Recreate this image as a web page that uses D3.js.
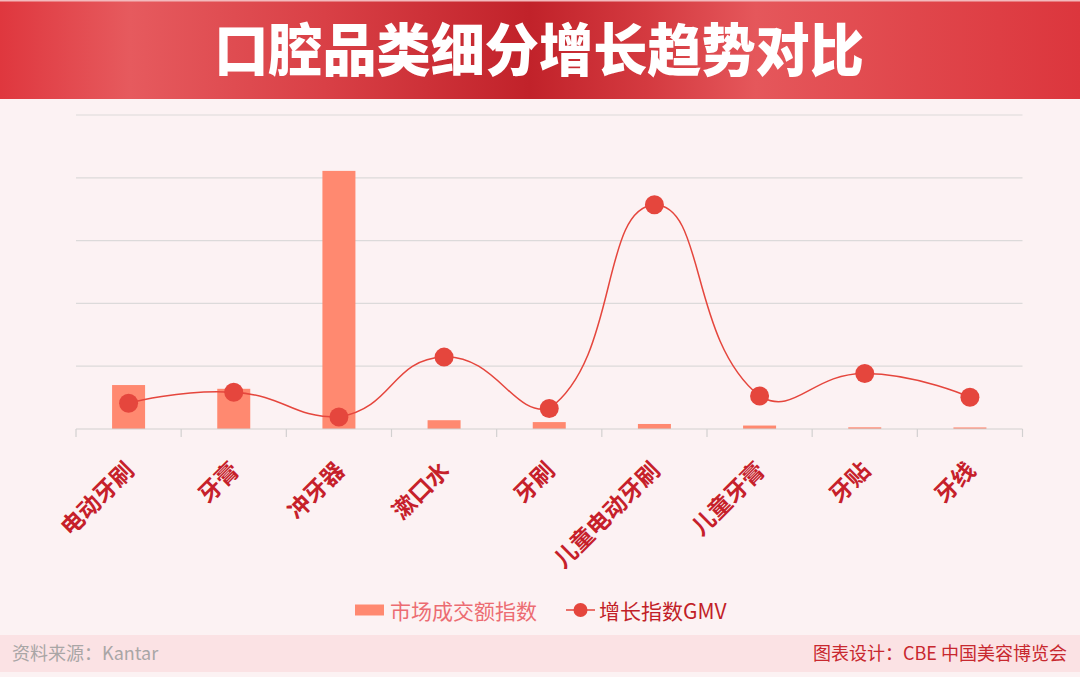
<!DOCTYPE html>
<html>
<head>
<meta charset="utf-8">
<script src="https://cdn.jsdelivr.net/npm/d3@7/dist/d3.min.js"></script>
<style>
  html, body { margin: 0; padding: 0; background: #fcf2f3; }
  svg { display: block; }
  text { font-family: "Noto Sans CJK SC", "Noto Sans", sans-serif; }
</style>
</head>
<body>
<svg id="chart" width="1080" height="677"></svg>
<script>
// ---- data ----
const title = "口腔品类细分增长趋势对比";
const categories = ["电动牙刷", "牙膏", "冲牙器", "漱口水", "牙刷", "儿童电动牙刷", "儿童牙膏", "牙贴", "牙线"];
const marketIndex = [7.0, 6.4, 41.1, 1.4, 1.1, 0.8, 0.55, 0.27, 0.25];   // 市场成交额指数 (bars)
const growthIndex = [4.1, 5.85, 1.9, 11.45, 3.25, 35.7, 5.25, 8.85, 5.05]; // 增长指数GMV (line)
const yTicks = [0, 10, 20, 30, 40, 50];
const legendLabels = ["市场成交额指数", "增长指数GMV"];
const sourceText = "资料来源：Kantar";
const creditText = "图表设计：CBE 中国美容博览会";

// ---- setup ----
const svg = d3.select("#chart");
const W = 1080, H = 677;

const defs = svg.append("defs");
const grad = defs.append("linearGradient").attr("id", "hdr").attr("x1", "0").attr("x2", "1").attr("y1", "0").attr("y2", "0");
[[0, "#df373e"], [0.12, "#e65a5e"], [0.3, "#d94046"], [0.49, "#c1222a"], [0.6, "#d43a40"], [0.7, "#e5575b"], [0.85, "#e0464b"], [1, "#dc363d"]]
  .forEach(([o, c]) => grad.append("stop").attr("offset", o).attr("stop-color", c));

svg.append("rect").attr("width", W).attr("height", H).attr("fill", "#fcf2f3");
svg.append("rect").attr("x", 0).attr("y", 0).attr("width", W).attr("height", 99).attr("fill", "url(#hdr)");
svg.append("rect").attr("x", 0).attr("y", 0).attr("width", W).attr("height", 1.5).attr("fill", "#f3b9bc");
svg.append("text")
  .attr("transform", "translate(539,71) scale(0.95,1)")
  .attr("text-anchor", "middle")
  .attr("fill", "#ffffff")
  .attr("font-size", 57)
  .attr("font-weight", 900)
  .text(title);

// footer band
svg.append("rect").attr("x", 0).attr("y", 635).attr("width", W).attr("height", 37).attr("fill", "#fbe2e4");
svg.append("text").attr("x", 12).attr("y", 660).attr("font-size", 18).attr("fill", "#a9a6a6").text(sourceText);
svg.append("text").attr("x", 1067).attr("y", 660).attr("text-anchor", "end").attr("font-size", 18).attr("fill", "#c8282f").text(creditText);

// ---- scales ----
const x = d3.scaleBand().domain(categories).range([76, 1022.5]).padding(0);
const y = d3.scaleLinear().domain([0, 50]).range([429, 115]);
const barW = 33;

// gridlines
svg.append("g").selectAll("line").data(yTicks.filter(d => d > 0)).join("line")
  .attr("x1", 76).attr("x2", 1022.5)
  .attr("y1", d => y(d)).attr("y2", d => y(d))
  .attr("stroke", "#dcdada").attr("stroke-width", 1.2);

// bars
svg.append("g").selectAll("rect").data(categories).join("rect")
  .attr("x", (d) => x(d) + x.bandwidth() / 2 - barW / 2)
  .attr("width", barW)
  .attr("y", (d, i) => y(marketIndex[i]))
  .attr("height", (d, i) => y(0) - y(marketIndex[i]))
  .attr("fill", "#ff8970");

// x axis
const axisG = svg.append("g");
axisG.append("line").attr("x1", 76).attr("x2", 1022.5).attr("y1", y(0)).attr("y2", y(0))
  .attr("stroke", "#d2d0d0").attr("stroke-width", 1.2);
const boundaries = categories.map(c => x(c)).concat([x.range()[1]]);
axisG.selectAll("line.tick").data(boundaries).join("line").attr("class", "tick")
  .attr("x1", d => d).attr("x2", d => d)
  .attr("y1", y(0)).attr("y2", y(0) + 8)
  .attr("stroke", "#d2d0d0").attr("stroke-width", 1.2);
axisG.selectAll("text").data(categories).join("text")
  .attr("transform", d => `translate(${x(d) + x.bandwidth() / 2 + 7},${y(0) + 43}) rotate(-45)`)
  .attr("text-anchor", "end")
  .attr("font-size", 23)
  .attr("font-weight", 700)
  .attr("fill", "#c6202a")
  .text(d => d);

// ECharts-like smooth curve (smooth = 0.5, constrained to point bounds)
function SmoothCurve(context) { this._context = context; }
SmoothCurve.prototype = {
  areaStart() {}, areaEnd() {},
  lineStart() { this._pts = []; },
  point(px, py) { this._pts.push([+px, +py]); },
  lineEnd() {
    const p = this._pts, c = this._context, s = 0.5;
    if (!p.length) return;
    const minX = d3.min(p, d => d[0]), maxX = d3.max(p, d => d[0]);
    const minY = d3.min(p, d => d[1]), maxY = d3.max(p, d => d[1]);
    const clamp = q => [Math.max(minX, Math.min(maxX, q[0])), Math.max(minY, Math.min(maxY, q[1]))];
    c.moveTo(p[0][0], p[0][1]);
    let cp0 = p[0].slice();
    for (let i = 1; i < p.length; i++) {
      const pt = p[i], prev = p[i - 1], next = p[i + 1];
      let cp1, v = [0, 0], r = 0.5;
      if (!next) {
        cp1 = pt.slice();
      } else {
        v = [next[0] - prev[0], next[1] - prev[1]];
        const l0 = Math.hypot(pt[0] - prev[0], pt[1] - prev[1]);
        const l1 = Math.hypot(next[0] - pt[0], next[1] - pt[1]);
        r = l1 / (l0 + l1);
        cp1 = [pt[0] - v[0] * s * (1 - r), pt[1] - v[1] * s * (1 - r)];
      }
      const a = clamp(cp0), b = clamp(cp1);
      c.bezierCurveTo(a[0], a[1], b[0], b[1], pt[0], pt[1]);
      cp0 = [pt[0] + v[0] * s * r, pt[1] + v[1] * s * r];
    }
  }
};
const curveSmooth = ctx => new SmoothCurve(ctx);

const lineGen = d3.line()
  .x((d, i) => x(categories[i]) + x.bandwidth() / 2)
  .y(d => y(d))
  .curve(curveSmooth);

svg.append("path").datum(growthIndex)
  .attr("d", lineGen)
  .attr("fill", "none")
  .attr("stroke", "#e5463d")
  .attr("stroke-width", 1.5);

svg.append("g").selectAll("circle").data(growthIndex).join("circle")
  .attr("cx", (d, i) => x(categories[i]) + x.bandwidth() / 2)
  .attr("cy", d => y(d))
  .attr("r", 9.5)
  .attr("fill", "#e5463d");

// legend
const lg = svg.append("g");
lg.append("rect").attr("x", 355).attr("y", 604.5).attr("width", 29).attr("height", 11).attr("fill", "#ff8970");
lg.append("text").attr("x", 390).attr("y", 610).attr("dominant-baseline", "central")
  .attr("font-size", 21).attr("fill", "#ec6c72").text(legendLabels[0]);
lg.append("line").attr("x1", 566).attr("x2", 595).attr("y1", 610).attr("y2", 610)
  .attr("stroke", "#e5463d").attr("stroke-width", 1.5);
lg.append("circle").attr("cx", 580.5).attr("cy", 610).attr("r", 7).attr("fill", "#e5463d");
lg.append("text").attr("x", 599).attr("y", 610).attr("dominant-baseline", "central")
  .attr("font-size", 21).attr("fill", "#c21f28").text(legendLabels[1]);
</script>
</body>
</html>
